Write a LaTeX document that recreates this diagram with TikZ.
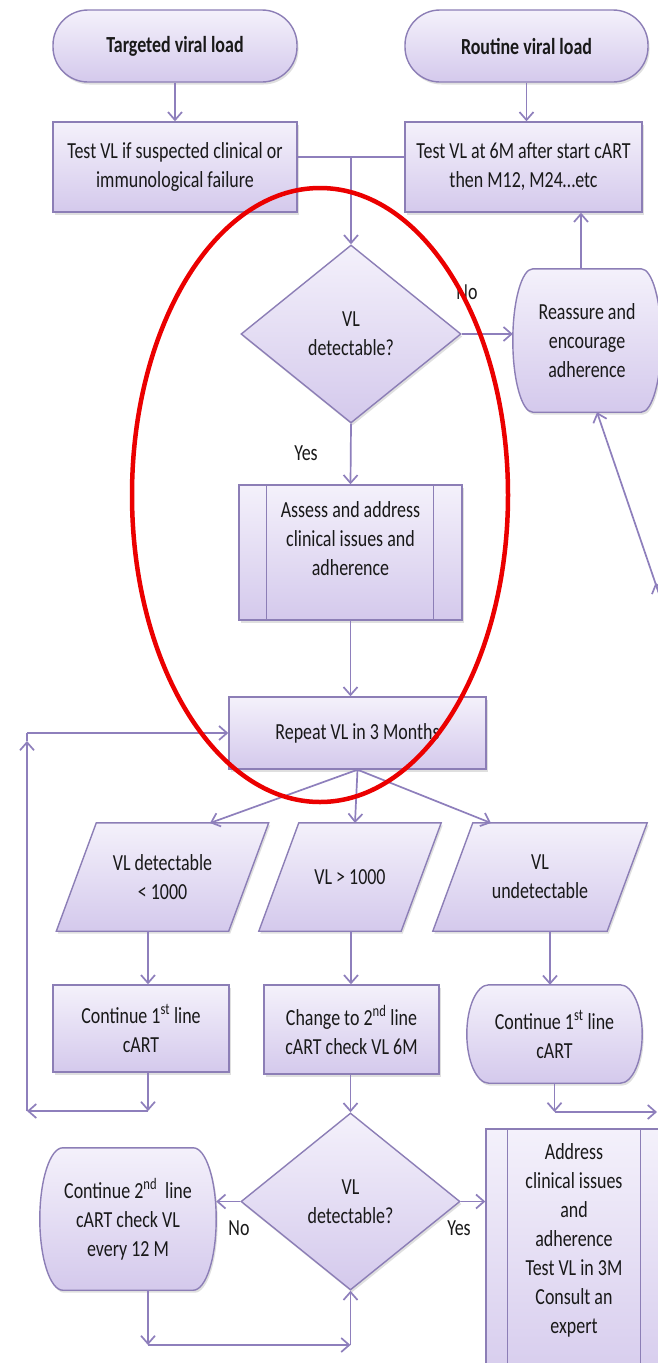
\documentclass[tikz,border=0pt]{standalone}
\usepackage{fontspec}
\setmainfont{Carlito}[FakeStretch=0.78]
\usetikzlibrary{arrows.meta,calc,shapes.geometric,shadows}
\pgfdeclarelayer{background}
\pgfdeclarelayer{paper}
\pgfsetlayers{paper,background,main}
\definecolor{bord}{RGB}{140,126,182}
\definecolor{conncol}{RGB}{142,127,188}
\definecolor{ftop}{RGB}{244,241,251}
\definecolor{fbot}{RGB}{212,201,236}
\definecolor{ringred}{RGB}{235,0,0}
\definecolor{ink}{RGB}{25,25,25}
\tikzset{
  boxfill/.style={draw=bord, line width=1.4pt, top color=ftop, bottom color=fbot,
    drop shadow={shadow xshift=1.5pt, shadow yshift=-2.5pt, opacity=0.25}},
  rectbox/.style={boxfill, rectangle, inner sep=0pt, align=center},
  ghost/.style={rectangle, inner sep=0pt, align=center},
  txt/.style={inner sep=0pt, align=center},
  conn/.style={draw=conncol, line width=1.7pt, -{Straight Barb[length=8pt,width=14pt]}},
  plainline/.style={draw=conncol, line width=1.7pt},
  lbl/.style={inner sep=0pt},
}
\newcommand{\termshape}[3]{%
  \path[boxfill] ($(#1.north west)+(#2,0)$) -- ($(#1.north east)+(-#2,0)$)
    .. controls +(0.5523*#2,0) and +(0,0.5523*#3) .. (#1.east)
    .. controls +(0,-0.5523*#3) and +(0.5523*#2,0) .. ($(#1.south east)+(-#2,0)$)
    -- ($(#1.south west)+(#2,0)$)
    .. controls +(-0.5523*#2,0) and +(0,-0.5523*#3) .. (#1.west)
    .. controls +(0,0.5523*#3) and +(-0.5523*#2,0) .. ($(#1.north west)+(#2,0)$) -- cycle;}
\newcommand{\parashape}[2]{%
  \path[boxfill] ($(#1.north west)+(#2,0)$) -- ($(#1.north east)+(#2,0)$)
    -- ($(#1.south east)+(-#2,0)$) -- ($(#1.south west)+(-#2,0)$) -- cycle;}
\begin{document}
\begin{tikzpicture}[x=1pt,y=1pt,font=\fontsize{23}{29}\selectfont,text=ink]
\useasboundingbox (0,0) rectangle (658,-1363);
\begin{pgfonlayer}{paper}
\fill[white] (0,0) rectangle (658,-1363);
\end{pgfonlayer}

% top row
\node[rectbox, rounded corners=35pt, minimum width=244pt, minimum height=72pt] (tgt) at (175,-46) {\textbf{Targeted viral load}};
\node[rectbox, rounded corners=35pt, minimum width=243pt, minimum height=72pt] (rtn) at (526.5,-46) {\textbf{Routine viral load}};
\node[rectbox, minimum width=244pt, minimum height=90pt] (testL) at (175,-167) {Test VL if suspected clinical or\\immunological failure};
\node[rectbox, minimum width=237pt, minimum height=90pt] (testR) at (523.5,-167) {Test VL at 6M after start cART\\then M12, M24…etc};

% first decision
\node[boxfill, diamond, inner sep=0pt, minimum width=220pt, minimum height=178pt, align=center] (dia1) at (351,-334) {VL\\detectable?};
\node[ghost, minimum width=148pt, minimum height=143pt] (reas) at (587,-340.5) {Reassure and\\encourage\\adherence};

% assess box
\node[rectbox, minimum width=223pt, minimum height=135pt] (assess) at (350.5,-552.5) {};
\draw[draw=bord, line width=1.4pt] ($(assess.north west)+(28,0)$) -- ($(assess.south west)+(28,0)$);
\draw[draw=bord, line width=1.4pt] ($(assess.north east)+(-29,0)$) -- ($(assess.south east)+(-29,0)$);
\node[txt] (assesstxt) at (350.5,-539) {Assess and address\\clinical issues and\\adherence};

\node[rectbox, minimum width=257pt, minimum height=72pt] (repeat) at (357.5,-733) {Repeat VL in 3 Months};

% parallelograms
\node[ghost, minimum width=172pt, minimum height=108pt] (par1) at (162.5,-877) {VL detectable\\< 1000};
\node[ghost, minimum width=142pt, minimum height=108pt] (par2) at (350,-877) {VL > 1000};
\node[ghost, minimum width=174pt, minimum height=108pt] (par3) at (540,-877) {VL\\undetectable};

% second row of actions
\node[rectbox, minimum width=176pt, minimum height=87pt] (cont1) at (141,-1028.5) {Continue 1\textsuperscript{st} line\\cART};
\node[rectbox, minimum width=175pt, minimum height=89pt] (change) at (351.5,-1029.5) {Change to 2\textsuperscript{nd} line\\cART check VL 6M};
\node[ghost, minimum width=175pt, minimum height=98pt] (cont1r) at (554.5,-1034) {Continue 1\textsuperscript{st} line\\cART};

% second decision
\node[boxfill, diamond, inner sep=0pt, minimum width=219pt, minimum height=177pt, align=center] (dia2) at (350.5,-1201.5) {VL\\detectable?};
\node[ghost, minimum width=176pt, minimum height=142pt] (cont2) at (128,-1219) {Continue 2\textsuperscript{nd}\ \ line\\cART check VL\\every 12 M};

\node[rectbox, minimum width=176pt, minimum height=271pt] (address) at (574,-1264.5) {};
\draw[draw=bord, line width=1.4pt] ($(address.north west)+(22,0)$) -- ($(address.south west)+(22,0)$);
\draw[draw=bord, line width=1.4pt] ($(address.north east)+(-22,0)$) -- ($(address.south east)+(-22,0)$);
\node[txt] (addresstxt) at (574,-1240) {Address\\clinical issues\\and\\adherence\\Test VL in 3M\\Consult an\\expert};

% shapes behind ghost nodes
\begin{pgfonlayer}{background}
  \termshape{reas}{20}{71.5}
  \termshape{cont1r}{22}{49}
  \termshape{cont2}{23}{71}
  \parashape{par1}{20}
  \parashape{par2}{20}
  \parashape{par3}{20}
\end{pgfonlayer}

% labels
\node[lbl] (no1) at (467,-292) {No};
\node[lbl] (yes1) at (306,-453) {Yes};
\node[lbl] (no2) at (239,-1228) {No};
\node[lbl] (yes2) at (459,-1228) {Yes};

% connectors top
\coordinate (j1) at (351,-157);
\draw[plainline] (testL.east |- j1) -- (j1);
\draw[plainline] (testR.west |- j1) -- (j1);
\draw[conn] (j1) -- (dia1.north);
\draw[conn] (tgt.south) -- (testL.north);
\draw[conn] (rtn.south) -- (rtn.south |- testR.north);
\draw[conn] (dia1.east) -- (dia1.east -| reas.west);
\coordinate (ru) at ($(reas.north)+(-6,0)$);
\draw[conn] (ru) -- (ru |- testR.south);
\coordinate (offr) at (668,-620);
\coordinate (offr2) at (672,-630);
\coordinate (tipR) at (655.5,-583);
\draw[conn] (offr) -- ($(reas.south)+(10,0)$);
\draw[conn] (offr2) -- (tipR);
\draw[conn] (dia1.south) -- (assess.north);
\draw[conn] (assess.south) -- (assess.south |- repeat.north);

% left loop
\coordinate (lm) at (148,-1111);
\coordinate (lb) at (27,-1111);
\coordinate (lt) at (27,-733);
\coordinate (ltt) at (27,-741);
\draw[conn] (cont1.south -| lm) -- (lm);
\draw[conn] (lm) -- (lb);
\draw[conn] (lb) -- (ltt);
\draw[plainline] (ltt) -- (lt);
\draw[conn] (lt) -- (repeat.west);

% fan out
\coordinate (p1t) at (210,-823);
\coordinate (p2t) at (355,-823);
\coordinate (p3t) at (491,-823);
\draw[conn] (repeat.south) -- (p1t);
\draw[conn] (repeat.south) -- (p2t);
\draw[conn] (repeat.south) -- (p3t);

\coordinate (mx) at (351,-1000);
\coordinate (rcol) at (550,-1000);
\draw[conn] (par1.south -| lm) -- (cont1.north -| lm);
\draw[conn] (par2.south -| mx) -- (change.north -| mx);
\draw[conn] (par3.south -| rcol) -- (cont1r.north -| rcol);
\draw[conn] (change.south -| dia2.north) -- (dia2.north);

% bottom
\draw[conn] (dia2.west) -- (dia2.west -| cont2.east);
\draw[conn] (dia2.east) -- (dia2.east -| address.west);
\coordinate (bl) at (148,-1345);
\coordinate (br) at (350.5,-1345);
\draw[conn] (cont2.south -| bl) -- (bl);
\draw[conn] (bl) -- (br);
\draw[conn] (br) -- (dia2.south);
\coordinate (rb) at (554.5,-1112);
\coordinate (re) at (657,-1112);
\draw[conn] (cont1r.south) -- (rb);
\draw[conn] (rb) -- (re);

% red ring
\draw[ringred, line width=4.5pt] (320,-495) ellipse [x radius=188, y radius=307];
\end{tikzpicture}
\end{document}
